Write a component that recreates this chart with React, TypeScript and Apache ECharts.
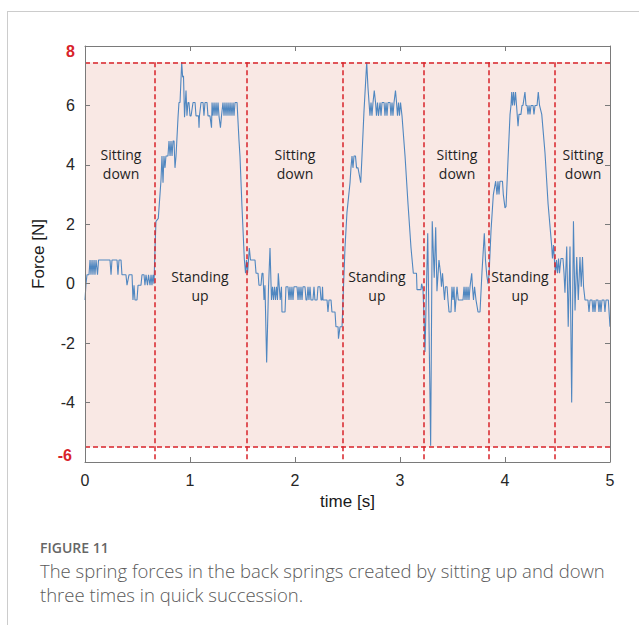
import React, { useEffect, useRef } from 'react';
import * as echarts from 'echarts';

// ---- data ----
const xTickValues = [0, 1, 2, 3, 4, 5];
const yRange = [-6, 8];
const phaseBoundaries = [0.66, 1.54, 2.454, 3.222, 3.848, 4.47];
const forceMaxLine = 7.45;
const forceMinLine = -5.5;
const phaseTexts = ['Sitting\ndown', 'Standing\nup', 'Sitting\ndown', 'Standing\nup', 'Sitting\ndown', 'Standing\nup', 'Sitting\ndown'];
const phaseTextPos: [number, number][] = [[0.343, 4.03], [1.095, -0.08], [2.0, 4.03], [2.78, -0.08], [3.543, 4.03], [4.143, -0.08], [4.743, 4.03]];
const captionLines = [
  'The spring forces in the back springs created by sitting up and down',
  'three times in quick succession.',
];

const restStart: [number, number][] = [
  [0, -0.55], [0.0095, 0.0], [0.019, 0.3], [0.038, 0.3], [0.048, 0.8], [0.057, 0.3], [0.067, 0.8], [0.076, 0.3],
  [0.086, 0.8], [0.095, 0.3], [0.105, 0.8], [0.119, 0.3], [0.129, 0.8], [0.238, 0.8], [0.248, 0.3], [0.257, 0.8],
  [0.305, 0.8], [0.314, 0.3], [0.324, 0.8], [0.343, 0.8], [0.352, 0.3], [0.39, 0.3], [0.4, -0.05], [0.419, 0.3],
  [0.448, 0.3], [0.457, -0.55], [0.467, -0.05], [0.476, -0.55], [0.495, -0.55], [0.505, -0.05], [0.533, -0.05],
  [0.543, 0.3], [0.562, 0.3], [0.571, -0.05], [0.581, 0.3], [0.595, -0.05], [0.605, 0.3], [0.619, -0.05],
  [0.629, 0.3], [0.638, -0.05], [0.648, 0.3], [0.657, 0.0],
];

const standUp1: [number, number][] = [
  [0.667, 1.2], [0.676, 2.1], [0.698, 2.2], [0.724, 3.5], [0.733, 4.3], [0.743, 3.4], [0.752, 4.3], [0.762, 3.9],
  [0.771, 4.3], [0.79, 4.3], [0.8, 4.8], [0.81, 4.3], [0.819, 4.8], [0.829, 4.3], [0.838, 4.8], [0.848, 4.8],
  [0.857, 3.9], [0.867, 4.3], [0.886, 5.6], [0.895, 6.1], [0.905, 6.1], [0.921, 7.45], [0.93, 6.95], [0.938, 7.0],
  [0.948, 5.6], [0.962, 6.5], [0.971, 5.65], [0.981, 6.1], [0.99, 6.1], [1.0, 5.65], [1.01, 5.65], [1.029, 6.1],
  [1.048, 6.1], [1.057, 5.65], [1.081, 5.65], [1.086, 5.25], [1.09, 5.65], [1.105, 6.1], [1.124, 6.1], [1.133, 5.65],
  [1.143, 6.1], [1.162, 6.1], [1.171, 5.65], [1.19, 5.65], [1.205, 5.25], [1.21, 6.1], [1.219, 5.65], [1.229, 6.1],
  [1.238, 5.65], [1.248, 6.1], [1.257, 5.65], [1.267, 6.1], [1.276, 5.65], [1.29, 5.25], [1.3, 5.65], [1.314, 6.1],
  [1.324, 5.65], [1.333, 6.1], [1.343, 5.65], [1.352, 6.1], [1.362, 5.65], [1.371, 6.1], [1.381, 5.65], [1.39, 6.1],
  [1.4, 5.65], [1.41, 6.1], [1.419, 5.65], [1.429, 6.1], [1.448, 6.1], [1.467, 4.8], [1.476, 4.3], [1.495, 2.6],
  [1.517, 0.85], [1.529, 0.35], [1.538, 0.8], [1.548, 0.35], [1.557, 0.8],
];

const sitDown1: [number, number][] = [
  [1.565, 1.2], [1.576, 0.8], [1.619, 0.8], [1.629, 0.35], [1.648, 0.35], [1.657, -0.05], [1.676, -0.05],
  [1.686, 0.35], [1.695, 0.35], [1.705, -0.55], [1.714, -0.05], [1.73, -2.65], [1.748, -0.1], [1.762, 1.2],
  [1.776, -0.55], [1.786, -0.1], [1.795, -0.55], [1.805, -0.1], [1.814, -0.55], [1.824, -0.1], [1.833, -0.55],
  [1.841, 0.35], [1.85, -0.1], [1.859, -0.55], [1.871, -0.1], [1.876, -0.95], [1.905, -0.95], [1.914, -0.1],
  [1.933, -0.1], [1.943, -0.55], [1.952, -0.1], [1.962, -0.55], [1.971, -0.1], [1.981, -0.55], [1.99, -0.1],
  [2.019, -0.1], [2.029, -0.55], [2.038, -0.1], [2.048, -0.55], [2.057, -0.1], [2.067, -0.55], [2.076, -0.1],
  [2.095, -0.1], [2.105, -0.55], [2.114, -0.55], [2.124, -0.1], [2.133, -0.55], [2.143, -0.1], [2.152, -0.55],
  [2.171, -0.55], [2.181, -0.1], [2.19, -0.55], [2.21, -0.55], [2.219, -0.1], [2.238, -0.1], [2.248, -0.55],
  [2.257, -0.55], [2.262, -0.1], [2.267, -0.55], [2.305, -0.55], [2.314, -0.95], [2.324, -0.55], [2.343, -0.55],
  [2.352, -0.95], [2.381, -0.95], [2.39, -1.45], [2.41, -1.45], [2.414, -1.85], [2.429, -1.45], [2.448, -1.45],
];

const standUp2: [number, number][] = [
  [2.462, -0.1], [2.476, 1.2], [2.495, 2.4], [2.524, 3.4], [2.533, 3.9], [2.543, 4.3], [2.552, 3.9], [2.562, 4.3],
  [2.576, 4.3], [2.586, 3.9], [2.6, 3.9], [2.626, 3.4], [2.638, 4.3], [2.657, 5.8], [2.683, 7.45], [2.695, 6.6],
  [2.714, 5.65], [2.724, 6.1], [2.733, 5.65], [2.743, 6.1], [2.755, 6.5], [2.767, 6.1], [2.776, 5.65], [2.786, 6.1],
  [2.795, 5.65], [2.81, 6.1], [2.819, 5.65], [2.829, 6.1], [2.848, 6.1], [2.857, 5.65], [2.867, 6.1], [2.876, 5.65],
  [2.886, 6.1], [2.905, 6.1], [2.914, 5.65], [2.924, 6.1], [2.933, 5.65], [2.943, 6.1], [2.957, 6.5], [2.967, 6.1],
  [2.976, 5.65], [2.986, 6.1], [2.995, 5.65], [3.005, 6.1], [3.019, 5.65], [3.048, 4.3], [3.076, 2.7], [3.105, 1.2],
  [3.127, 0.35], [3.157, 0.35], [3.162, -0.2], [3.2, -0.2], [3.206, 0.0], [3.219, -0.2],
];

const sitDown2: [number, number][] = [
  [3.231, -1.35], [3.238, -2.3], [3.264, 1.7], [3.292, -5.45], [3.307, 2.1], [3.326, 0.2], [3.34, 1.9],
  [3.352, -0.25], [3.371, 0.8], [3.386, 0.35], [3.395, -0.1], [3.405, 0.35], [3.414, -0.1], [3.424, -0.55],
  [3.433, -0.1], [3.448, -0.1], [3.457, -0.55], [3.467, -0.95], [3.486, -0.95], [3.495, -0.1], [3.505, -0.55],
  [3.514, -0.1], [3.524, -0.95], [3.533, -0.55], [3.543, -0.1], [3.555, -0.55], [3.6, -0.55], [3.61, -0.1],
  [3.619, -0.55], [3.629, -0.1], [3.638, -0.55], [3.648, -0.1], [3.657, -0.55], [3.667, -0.1], [3.683, 0.35],
  [3.69, -0.1], [3.7, -0.55], [3.71, -0.1], [3.724, -0.55], [3.743, -0.95], [3.762, -0.95], [3.781, 0.4],
  [3.803, 1.7], [3.814, 0.8], [3.826, 0.3], [3.838, 0.0],
];

const standUp3: [number, number][] = [
  [3.848, 0.3], [3.867, 1.8], [3.889, 3.0], [3.911, 3.45], [3.924, 3.0], [3.933, 3.45], [3.943, 3.0], [3.952, 3.45],
  [3.976, 3.45], [3.984, 3.0], [3.99, 3.0], [4.0, 2.55], [4.01, 2.6], [4.029, 4.2], [4.048, 5.7], [4.057, 6.0],
  [4.064, 6.45], [4.071, 6.0], [4.081, 6.45], [4.09, 6.0], [4.1, 6.45], [4.11, 6.0], [4.124, 5.3], [4.133, 5.7],
  [4.152, 5.7], [4.162, 6.0], [4.171, 6.0], [4.19, 6.45], [4.2, 6.0], [4.21, 6.0], [4.219, 5.7], [4.229, 6.0],
  [4.238, 5.7], [4.248, 6.0], [4.267, 6.0], [4.276, 5.7], [4.286, 6.0], [4.305, 6.0], [4.317, 6.45], [4.329, 6.0],
  [4.35, 5.7], [4.381, 4.4], [4.41, 2.7], [4.444, 1.3], [4.452, 0.85], [4.462, 1.3], [4.471, 0.8],
];

const sitDown3: [number, number][] = [
  [4.481, 0.35], [4.49, 0.8], [4.5, 0.35], [4.51, 0.85], [4.519, 0.35], [4.533, 0.85], [4.552, 0.85], [4.562, 0.35],
  [4.571, -0.3], [4.588, 1.25], [4.602, -1.45], [4.619, 1.25], [4.635, -4.0], [4.652, 2.1], [4.667, -0.9],
  [4.683, 0.9], [4.698, -0.55], [4.714, 0.9], [4.726, -0.1], [4.738, 0.9], [4.748, -0.1], [4.762, -0.55],
  [4.79, -0.55], [4.8, -0.95], [4.81, -0.55], [4.829, -0.55], [4.838, -0.95], [4.848, -0.55], [4.857, -0.95],
  [4.867, -0.55], [4.886, -0.55], [4.895, -0.95], [4.905, -0.55], [4.914, -0.95], [4.924, -0.55], [4.943, -0.55],
  [4.952, -0.95], [4.962, -0.55], [4.984, -0.55], [5.0, -1.45],
];

const forceData = [...restStart, ...standUp1, ...sitDown1, ...standUp2, ...sitDown2, ...standUp3, ...sitDown3];

const RED = '#d8232a';
const AXIS = '#7a7a7a';
const TICKTXT = '#262626';

export default function App() {
  const ref = useRef<HTMLDivElement>(null);
  useEffect(() => {
    const chart = echarts.init(ref.current!, null, { renderer: 'svg' });
    const redDash = { color: RED, type: [5, 3] as any, width: 1.5 };
    const axisLine = { show: true, onZero: false, lineStyle: { color: AXIS, width: 1 } };
    const axisTick = { inside: true, length: 5, lineStyle: { color: AXIS } };
    const option: any = {
      animation: false,
      backgroundColor: '#ffffff',
      grid: { left: 85, right: 29, top: 46, bottom: 163 },
      xAxis: [
        {
          type: 'value', min: xTickValues[0], max: xTickValues[xTickValues.length - 1], interval: 1, z: 10,
          name: 'time [s]', nameLocation: 'middle', nameGap: 30,
          nameTextStyle: { color: '#1a1a1a', fontSize: 17, fontFamily: 'Liberation Sans, Arial' },
          axisLine, axisTick,
          axisLabel: { color: TICKTXT, fontSize: 16, margin: 10, fontFamily: 'Liberation Sans, Arial' },
          splitLine: { show: false },
        },
        {
          type: 'value', position: 'top', min: xTickValues[0], max: xTickValues[xTickValues.length - 1], interval: 1, z: 10,
          axisLine, axisTick,
          axisLabel: { show: false }, splitLine: { show: false },
        },
      ],
      yAxis: [
        {
          type: 'value', min: yRange[0], max: yRange[1], interval: 2, z: 10,
          name: 'Force [N]', nameLocation: 'middle', nameGap: 30,
          nameTextStyle: { color: '#1a1a1a', fontSize: 17, fontFamily: 'Liberation Sans, Arial' },
          axisLine, axisTick,
          axisLabel: {
            color: TICKTXT, fontSize: 16, margin: 10, fontFamily: 'Liberation Sans, Arial',
            formatter: (v: number) => (v === yRange[1] ? `{top|${v}}` : v === yRange[0] ? `{bot|${v}}` : `${v}`),
            rich: {
              top: { color: RED, fontSize: 16, fontWeight: 'bold', padding: [11, 0, 0, 0], fontFamily: 'Liberation Sans, Arial' },
              bot: { color: RED, fontSize: 16, fontWeight: 'bold', padding: [0, 3, 13, 0], fontFamily: 'Liberation Sans, Arial' },
            },
          },
          splitLine: { show: false },
        },
        {
          type: 'value', position: 'right', min: yRange[0], max: yRange[1], interval: 2, z: 10,
          axisLine, axisTick,
          axisLabel: { show: false }, splitLine: { show: false },
        },
      ],
      series: [
        {
          type: 'line', xAxisIndex: 0, yAxisIndex: 0, data: forceData, showSymbol: false, symbol: 'none',
          lineStyle: { color: '#5087c0', width: 1.1 }, z: 3,
          markArea: {
            silent: true,
            itemStyle: { color: '#f9e8e4' },
            data: [[{ coord: [xTickValues[0], forceMinLine] }, { coord: [xTickValues[xTickValues.length - 1], forceMaxLine] }]],
          },
          markLine: {
            silent: true, symbol: ['none', 'none'], label: { show: false }, lineStyle: redDash,
            data: [
              [{ coord: [xTickValues[0], forceMaxLine] }, { coord: [xTickValues[xTickValues.length - 1], forceMaxLine] }],
              [{ coord: [xTickValues[0], forceMinLine] }, { coord: [xTickValues[xTickValues.length - 1], forceMinLine] }],
              ...phaseBoundaries.map((t) => [{ coord: [t, forceMaxLine] }, { coord: [t, yRange[0]] }]),
            ],
          },
          markPoint: {
            silent: true, symbol: 'circle', symbolSize: 1, itemStyle: { color: 'rgba(0,0,0,0)' },
            label: {
              show: true, position: 'inside', color: '#1f1f1f', fontSize: 14, lineHeight: 19,
              fontFamily: 'Open Sans', formatter: (p: any) => p.name,
            },
            data: phaseTexts.map((txt, i) => ({ name: txt, coord: phaseTextPos[i] })),
          },
        },
      ],
      graphic: [
        { type: 'line', shape: { x1: 7, y1: 11.5, x2: 639, y2: 11.5 }, style: { stroke: '#cccccc', lineWidth: 1 } },
        { type: 'line', shape: { x1: 7.5, y1: 11, x2: 7.5, y2: 625 }, style: { stroke: '#cccccc', lineWidth: 1 } },
        {
          type: 'text', left: 40, top: 540,
          style: { text: 'FIGURE 11', fill: '#666666', font: '600 14px "Open Sans"' },
        },
        ...captionLines.map((line, i) => ({
          type: 'text', left: 40, top: 561 + i * 24,
          style: { text: line, fill: '#5a5a5a', font: '300 18.5px "Open Sans"' },
        })),
      ],
    };
    chart.setOption(option);
    return () => chart.dispose();
  }, []);
  return <div ref={ref} style={{ position: 'fixed', left: 0, top: 0, width: 639, height: 625, background: '#fff' }} />;
}
